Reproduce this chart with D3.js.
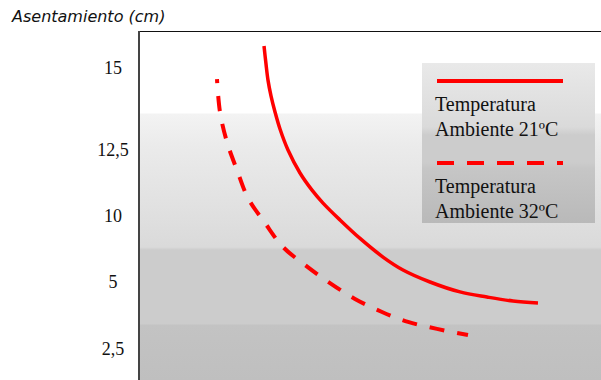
<!DOCTYPE html>
<html lang="es">
<head>
  <meta charset="UTF-8">
  <title>Asentamiento</title>
  <script src="https://d3js.org/d3.v7.min.js"></script>
  <style>
    body { margin: 0; background: #fff; }
    .tick-label { font-family: "Liberation Serif", serif; font-size: 18px; fill: #111; }
    .legend-text { font-family: "Liberation Serif", serif; font-size: 20px; fill: #111; }
    .ytitle { font-family: "DejaVu Sans", sans-serif; font-style: italic; font-size: 16px; fill: #111; }
  </style>
</head>
<body>
  <svg id="chart" width="601" height="380"></svg>
  <script>
    // tick labels of the y axis (cm) - the axis is not evenly spaced
    const yTicks = [15, 12.5, 10, 5, 2.5];
    const yTickText = ["15", "12,5", "10", "5", "2,5"];

    // series: x = time (arbitrary units), y = settlement (cm)
    const t21 = [27.06, 27.49, 27.92, 28.57, 29.44, 30.52, 32.25, 34.85, 37.45, 39.83, 43.51, 47.84, 52.81, 57.14, 62.99, 69.48, 75.32, 80.95, 86.36];
    const s21 = [15.67, 15.12, 14.63, 14.15, 13.66, 13.14, 12.5, 11.63, 10.98, 10.49, 9.70, 8.30, 6.89, 5.91, 5.0, 4.63, 4.44, 4.29, 4.22];
    const t32 = [16.88, 17.53, 19.05, 21.21, 23.59, 27.27, 31.17, 35.93, 41.34, 46.75, 52.60, 58.23, 64.50, 71.21];
    const s32 = [14.66, 13.66, 12.74, 11.74, 10.68, 9.47, 7.65, 6.29, 4.96, 4.37, 3.88, 3.51, 3.25, 3.02];

    const seriesNames = ["Temperatura Ambiente 21ºC", "Temperatura Ambiente 32ºC"];

    const svg = d3.select("#chart");
    const plotL = 139, plotT = 31, plotR = 601, plotB = 380;

    const x = d3.scaleLinear().domain([0, 100]).range([plotL, plotR]);
    // piecewise scale matching the uneven tick spacing
    const y = d3.scaleLinear().domain(yTicks).range([68, 150, 216, 282, 349]);

    const defs = svg.append("defs");
    const bg = defs.append("linearGradient").attr("id", "bg")
      .attr("gradientUnits", "userSpaceOnUse")
      .attr("x1", 0).attr("y1", plotT).attr("x2", 0).attr("y2", plotB);
    [[plotT, "#ffffff"], [113, "#ffffff"], [114, "#f3f3f3"], [145, "#ebebeb"], [200, "#e2e2e2"],
     [247, "#dadada"], [250, "#cccccc"], [324, "#cccccc"], [325, "#c3c3c3"], [plotB, "#bfbfbf"]]
      .forEach(([o, c]) => bg.append("stop")
        .attr("offset", (o - plotT) / (plotB - plotT)).attr("stop-color", c));

    const lg = defs.append("linearGradient").attr("id", "lg")
      .attr("x1", 0).attr("y1", 0).attr("x2", 0).attr("y2", 1);
    [[0, "#e9e9e9"], [0.4, "#dadada"], [0.45, "#cccccc"], [0.62, "#cccccc"], [0.66, "#c6c6c6"], [1, "#b9b9b9"]]
      .forEach(([o, c]) => lg.append("stop").attr("offset", o).attr("stop-color", c));

    // plot area
    svg.append("rect")
      .attr("x", plotL).attr("y", plotT)
      .attr("width", plotR - plotL).attr("height", plotB - plotT)
      .attr("fill", "url(#bg)");
    svg.append("line")
      .attr("x1", plotL).attr("x2", plotR).attr("y1", plotT + 0.5).attr("y2", plotT + 0.5)
      .attr("stroke", "#111").attr("stroke-width", 1);
    svg.append("line")
      .attr("x1", plotL).attr("x2", plotL).attr("y1", plotT).attr("y2", plotB)
      .attr("stroke", "#444").attr("stroke-width", 2);

    // y tick labels
    svg.selectAll(".tick-label")
      .data(yTicks)
      .enter().append("text")
      .attr("class", "tick-label")
      .attr("x", 113)
      .attr("y", d => y(d))
      .attr("dy", "0.35em")
      .attr("text-anchor", "middle")
      .text((d, i) => yTickText[i]);

    svg.append("text")
      .attr("class", "ytitle")
      .attr("x", 12).attr("y", 22)
      .text("Asentamiento (cm)");

    const line = d3.line()
      .x(d => x(d[0]))
      .y(d => y(d[1]))
      .curve(d3.curveCatmullRom);

    svg.append("path")
      .datum(d3.zip(t21, s21))
      .attr("d", line)
      .attr("fill", "none")
      .attr("stroke", "#ff0000")
      .attr("stroke-width", 3.5);

    svg.append("path")
      .datum(d3.zip(t32, s32))
      .attr("d", line)
      .attr("fill", "none")
      .attr("stroke", "#ff0000")
      .attr("stroke-width", 4)
      .attr("stroke-dasharray", "15,13")
      .attr("stroke-dashoffset", 11);

    // legend
    const legend = svg.append("g");
    legend.append("rect")
      .attr("x", 422).attr("y", 63).attr("width", 173).attr("height", 160)
      .attr("fill", "url(#lg)");

    seriesNames.forEach((name, i) => {
      const oy = i * 82;
      legend.append("line")
        .attr("x1", 437).attr("x2", 563)
        .attr("y1", 81 + oy).attr("y2", 81 + oy)
        .attr("stroke", "#ff0000").attr("stroke-width", 4)
        .attr("stroke-dasharray", i === 1 ? "17,13" : null);
      const words = name.split(" ");
      legend.append("text").attr("class", "legend-text")
        .attr("x", 435).attr("y", 111 + oy).text(words[0]);
      legend.append("text").attr("class", "legend-text")
        .attr("x", 435).attr("y", 136 + oy).text(words.slice(1).join(" "));
    });
  </script>
</body>
</html>
